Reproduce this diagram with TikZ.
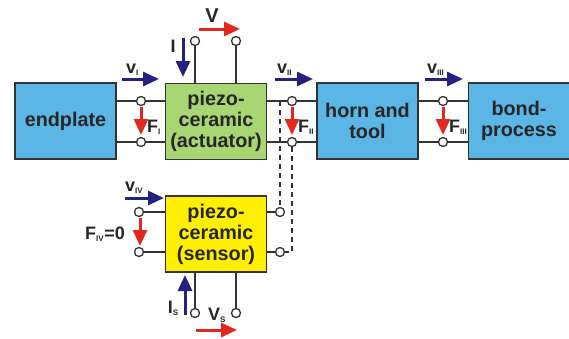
\documentclass[tikz,border=0pt]{standalone}
\usepackage{fontspec}
\setmainfont{Liberation Sans}
\usetikzlibrary{arrows.meta}
\definecolor{boxblue}{HTML}{5BB6E6}
\definecolor{boxgreen}{HTML}{A8D672}
\definecolor{boxyellow}{HTML}{FFF000}
\definecolor{navy}{HTML}{25217E}
\definecolor{redarr}{HTML}{E2271C}
\definecolor{wire}{HTML}{333333}
\newcommand{\sbs}[1]{\textsubscript{\fontsize{8}{8}\selectfont #1}}
\tikzset{
  blk/.style={draw=wire, line width=1.5pt, minimum width=101pt, minimum height=76pt,
    inner sep=0pt, align=center, font=\fontsize{19.8}{21}\selectfont\bfseries, text=black!85},
  term/.style={circle, draw=wire, fill=white, line width=1.3pt, minimum size=9pt, inner sep=0pt},
  wireline/.style={draw=wire, line width=1.3pt},
  dline/.style={draw=wire, line width=1.3pt, dash pattern=on 5pt off 4pt},
  narr/.style={draw=navy, line width=3pt, -{Triangle[length=16pt,width=14pt]}},
  rarr/.style={draw=redarr, line width=3pt, -{Triangle[length=16pt,width=14pt]}},
  lbl/.style={inner sep=0pt, font=\fontsize{18}{18}\selectfont\bfseries, text=black!85},
  vlbl/.style={inner sep=0pt, font=\fontsize{18}{18}\selectfont\bfseries, text=black!85},
}
\begin{document}
\begin{tikzpicture}[x=1pt,y=-1pt]
\useasboundingbox (0,0) rectangle (569,338);
\begin{scope}
\clip (0,0) rectangle (569,338);
% boxes
\node[blk, fill=boxblue] (endplate) at (65.5,121) {endplate};
\node[blk, fill=boxgreen] (act) at (216,121.5) {piezo-\\ceramic\\(actuator)};
\node[blk, fill=boxblue] (horn) at (367.5,121) {horn and\\tool};
\node[blk, fill=boxblue] (bond) at (519,121) {bond-\\process};
\node[blk, fill=boxyellow] (sens) at (216,234) {piezo-\\ceramic\\(sensor)};
\end{scope}
% terminals on main line
\node[term] (t1a) at (141,101) {};
\node[term] (t1b) at (141,142) {};
\node[term] (t2a) at (292,101) {};
\node[term] (t2b) at (292,142) {};
\node[term] (t3a) at (443,101) {};
\node[term] (t3b) at (443,142) {};
% actuator top terminals
\node[term] (ea) at (195,41) {};
\node[term] (eb) at (236,41) {};
% sensor terminals
\node[term] (sl1) at (139,212) {};
\node[term] (sl2) at (139,252) {};
\node[term] (sr1) at (280,212) {};
\node[term] (sr2) at (280,252) {};
\node[term] (sb1) at (195,313) {};
\node[term] (sb2) at (236,313) {};
% wires
\draw[wireline] (endplate.east |- t1a) -- (t1a) -- (act.west |- t1a);
\draw[wireline] (endplate.east |- t1b) -- (t1b) -- (act.west |- t1b);
\draw[wireline] (act.east |- t2a) -- (t2a) -- (horn.west |- t2a);
\draw[wireline] (act.east |- t2b) -- (t2b) -- (horn.west |- t2b);
\draw[wireline] (horn.east |- t3a) -- (t3a) -- (bond.west |- t3a);
\draw[wireline] (horn.east |- t3b) -- (t3b) -- (bond.west |- t3b);
\draw[wireline] (ea) -- (ea |- act.north);
\draw[wireline] (eb) -- (eb |- act.north);
\draw[wireline] (sl1) -- (sens.west |- sl1);
\draw[wireline] (sl2) -- (sens.west |- sl2);
\draw[wireline] (sr1) -- (sens.east |- sr1);
\draw[wireline] (sr2) -- (sens.east |- sr2);
\draw[wireline] (sb1) -- (sb1 |- sens.south);
\draw[wireline] (sb2) -- (sb2 |- sens.south);
% dashed links
\coordinate (dA) at (280,101);
\draw[dline] (dA) -- (sr1.north);
\draw[dline] (t2b.south) -- (t2b |- sr2) -- (sr2.east);
% arrows
\coordinate (v1s) at (122,79); \coordinate (v1e) at (159,79);
\draw[narr] (v1s) -- (v1e);
\node[vlbl, anchor=base west] (v1l) at (126,73) {v\sbs{I}};
\coordinate (is) at (183,38); \coordinate (ie) at (183,77);
\draw[narr] (is) -- (ie);
\node[lbl] (il) at (173,46) {I};
\coordinate (Vs) at (199,29); \coordinate (Ve) at (240,29);
\draw[rarr] (Vs) -- (Ve);
\node[lbl, font=\fontsize{20}{20}\selectfont\bfseries] (Vl) at (212,16) {V};
\coordinate (f1s) at (141,107); \coordinate (f1e) at (141,135);
\draw[rarr] (f1s) -- (f1e);
\node[lbl, anchor=base west] (f1l) at (147,132) {F\sbs{I}};
\coordinate (v2s) at (275,79); \coordinate (v2e) at (313,79);
\draw[narr] (v2s) -- (v2e);
\node[vlbl, anchor=base west] (v2l) at (277,73) {v\sbs{II}};
\coordinate (f2s) at (292,107); \coordinate (f2e) at (292,135);
\draw[rarr] (f2s) -- (f2e);
\node[lbl, anchor=base west] (f2l) at (298,132) {F\sbs{II}};
\coordinate (v3s) at (425,79); \coordinate (v3e) at (463,79);
\draw[narr] (v3s) -- (v3e);
\node[vlbl, anchor=base west] (v3l) at (427,73) {v\sbs{III}};
\coordinate (f3s) at (443,107); \coordinate (f3e) at (443,135);
\draw[rarr] (f3s) -- (f3e);
\node[lbl, anchor=base west] (f3l) at (449,132) {F\sbs{III}};
\coordinate (v4s) at (125,198); \coordinate (v4e) at (164,198);
\draw[narr] (v4s) -- (v4e);
\node[vlbl, anchor=base west] (v4l) at (125,191) {v\sbs{IV}};
\coordinate (f4s) at (140,218); \coordinate (f4e) at (140,246);
\draw[rarr] (f4s) -- (f4e);
\node[lbl, anchor=base east] (f4l) at (125,239) {F\sbs{IV}=0};
\coordinate (iss) at (185,315); \coordinate (ise) at (185,275);
\draw[narr] (iss) -- (ise);
\node[lbl, anchor=base east] (isl) at (179,313) {I\sbs{S}};
\coordinate (vss) at (196,330); \coordinate (vse) at (237,330);
\draw[rarr] (vss) -- (vse);
\node[lbl, anchor=base west] (vsl) at (208,320) {V\sbs{S}};
\end{tikzpicture}
\end{document}
